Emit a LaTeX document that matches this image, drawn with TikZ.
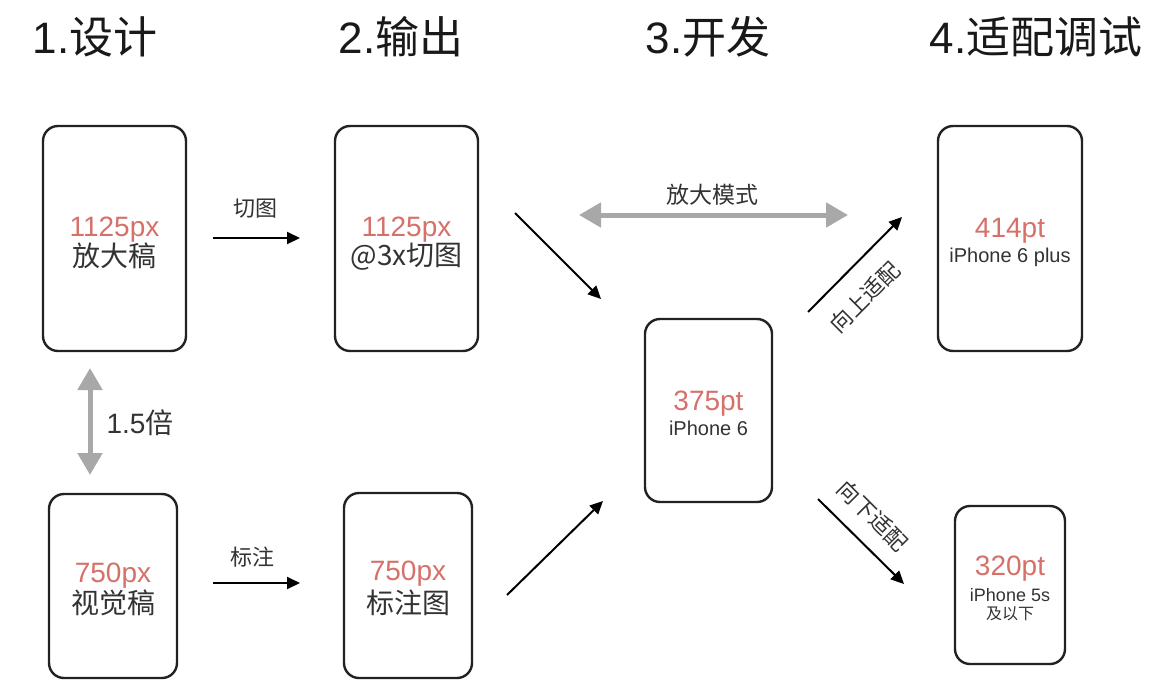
\documentclass[tikz,border=0pt]{standalone}
\usepackage{fontspec}
\setmainfont{Liberation Sans}
\newfontfamily\cjk{Noto Sans CJK SC}
\usetikzlibrary{arrows.meta}
\definecolor{numred}{RGB}{214,112,105}
\definecolor{txt}{RGB}{51,51,51}
\definecolor{garrow}{RGB}{168,168,168}
\definecolor{border}{RGB}{34,34,34}
\begin{document}
\begin{tikzpicture}[x=1pt,y=-1pt,
  phone/.style={draw=border, line width=2.4pt, rounded corners=15pt, inner sep=0pt},
  hdr/.style={anchor=base, inner sep=0pt, text=black!90, font=\fontsize{44}{48}\selectfont},
  num/.style={anchor=base, inner sep=0pt, text=numred, font=\fontsize{28}{30}\selectfont},
  big/.style={anchor=base, inner sep=0pt, text=txt, font=\cjk\fontsize{28}{30}\selectfont},
  small/.style={anchor=base, inner sep=0pt, text=txt, font=\fontsize{20}{22}\selectfont},
  lbl/.style={anchor=base, inner sep=0pt, text=txt, font=\cjk\fontsize{22}{24}\selectfont},
  rlbl/.style={anchor=center, inner sep=0pt, text=txt, font=\cjk\fontsize{22}{24}\selectfont},
  blk/.style={draw=black, line width=2pt, -{Triangle[length=13pt,width=12pt]}},
  gry/.style={draw=garrow, line width=5pt, {Triangle[length=22pt,width=24pt]}-{Triangle[length=22pt,width=24pt]}},
]
\useasboundingbox[fill=white] (0,0) rectangle (1164,688);

% headers
\node[hdr] (h1) at (95,53) {1.{\cjk 设计}};
\node[hdr] (h2) at (401,53) {2.{\cjk 输出}};
\node[hdr] (h3) at (708,53) {3.{\cjk 开发}};
\node[hdr] (h4) at (1036,53) {4.{\cjk 适配调试}};

% boxes
\node[phone, minimum width=143pt, minimum height=225pt] (A) at (114.5,238.5) {};
\node[phone, minimum width=143pt, minimum height=225pt] (B) at (406.5,238.5) {};
\node[phone, minimum width=128pt, minimum height=184pt] (C) at (113,586) {};
\node[phone, minimum width=128pt, minimum height=185pt] (D) at (408,585.5) {};
\node[phone, minimum width=127pt, minimum height=183pt] (E) at (708.5,410.5) {};
\node[phone, minimum width=144pt, minimum height=225pt] (F) at (1010,238.5) {};
\node[phone, minimum width=110pt, minimum height=158pt] (G) at (1010,585) {};

% box texts
\node[num] (Anum) at (114.5,236) {1125px};
\node[big] (Atxt) at (114.5,266) {放大稿};
\node[num] (Bnum) at (406.5,236) {1125px};
\node[big] (Btxt) at (406.5,265) {@3x{\cjk 切图}};
\node[num] (Cnum) at (113,582) {750px};
\node[big] (Ctxt) at (113,613) {视觉稿};
\node[num] (Dnum) at (408,580) {750px};
\node[big] (Dtxt) at (408,613) {标注图};
\node[num] (Enum) at (708.5,410) {375pt};
\node[small] (Etxt) at (708.5,435) {iPhone 6};
\node[num] (Fnum) at (1010,237) {414pt};
\node[small] (Ftxt) at (1010,262) {iPhone 6 plus};
\node[num] (Gnum) at (1010,575) {320pt};
\node[small, font=\fontsize{18}{20}\selectfont] (Gtxt) at (1010,601) {iPhone 5s};
\node[lbl, font=\cjk\fontsize{16}{18}\selectfont] (Gtxt2) at (1010,619) {及以下};

% arrow end points
\coordinate (q1s) at (213,238);
\coordinate (q1e) at (300,238);
\coordinate (q2s) at (213,583);
\coordinate (q2e) at (300,583);
\coordinate (d1s) at (515,213);
\coordinate (d1e) at (601,299);
\coordinate (d2s) at (507,595);
\coordinate (d2e) at (603,501);
\coordinate (u1s) at (808,312);
\coordinate (u1e) at (902,217);
\coordinate (u2s) at (818,499);
\coordinate (u2e) at (904,584);
\coordinate (g1s) at (90,368);
\coordinate (g1e) at (90,475);
\coordinate (g2s) at (579,215);
\coordinate (g2e) at (848,215);

% black arrows
\draw[blk] (q1s) -- (q1e);
\draw[blk] (q2s) -- (q2e);
\draw[blk] (d1s) -- (d1e);
\draw[blk] (d2s) -- (d2e);
\draw[blk] (u1s) -- (u1e);
\draw[blk] (u2s) -- (u2e);

% gray double arrows
\draw[gry] (g1s) -- (g1e);
\draw[gry] (g2s) -- (g2e);

% labels
\node[lbl] (l1) at (255,216) {切图};
\node[lbl] (l2) at (252,565) {标注};
\node[lbl, font=\cjk\fontsize{23}{25}\selectfont] (l3) at (712,203) {放大模式};
\node[anchor=base, inner sep=0pt, text=txt, font=\fontsize{28}{30}\selectfont] (l4) at (140,433) {1.5{\cjk 倍}};
\node[rlbl, rotate=45] (l5) at (865,297) {向上适配};
\node[rlbl, rotate=-45] (l6) at (873,516) {向下适配};
\end{tikzpicture}
\end{document}
